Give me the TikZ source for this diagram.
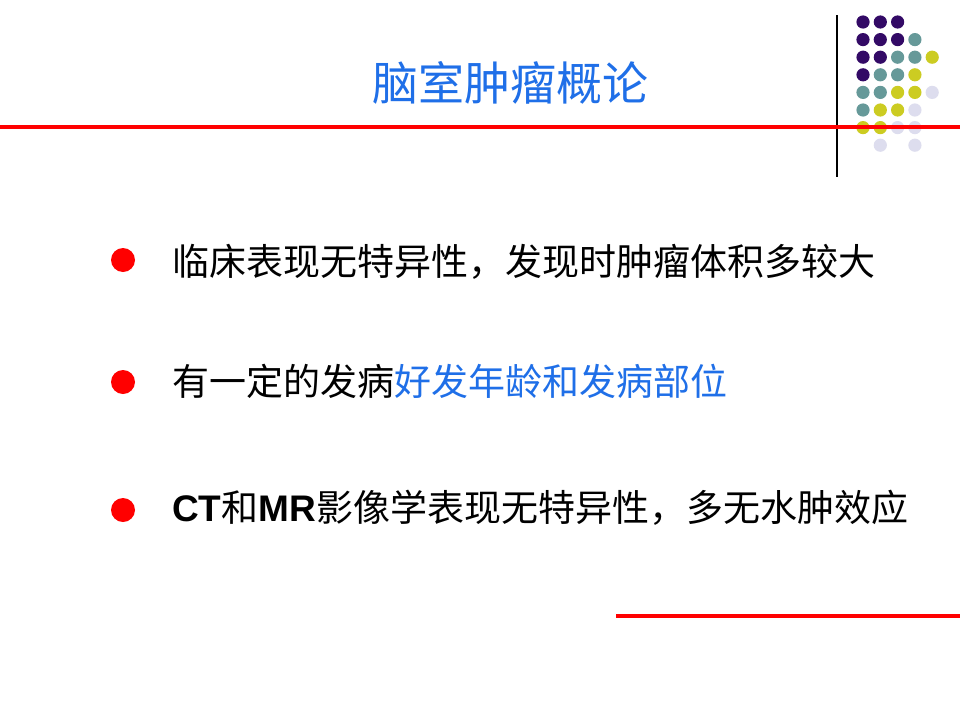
\documentclass[tikz,border=0pt]{standalone}
\usepackage{fontspec}
\newfontfamily\cjk{Noto Sans CJK SC}
\newfontfamily\arial{Liberation Sans}
\definecolor{titleblue}{HTML}{1F6FE8}
\definecolor{dotpurple}{HTML}{330A66}
\definecolor{dotteal}{HTML}{669999}
\definecolor{dotyellow}{HTML}{CCCC22}
\definecolor{dotlilac}{HTML}{DDDDEE}
\begin{document}
\begin{tikzpicture}[x=1pt,y=-1pt,
	bodytext/.style={anchor=west,inner sep=0pt,font=\cjk\fontsize{37}{40}\selectfont},
	bulletdot/.style={fill=red,draw=none}]
	\useasboundingbox[fill=white] (0,0) rectangle (960,720);
	% rules
	\draw[red,line width=4pt] (0,127) -- (960,127);
	\draw[red,line width=4pt] (616,616) -- (960,616);
	\draw[black,line width=1.2pt] (837,15) -- (837,177);
	% dot grid
	\foreach \c/\r/\col in {0/0/dotpurple,1/0/dotpurple,2/0/dotpurple,
		0/1/dotpurple,1/1/dotpurple,2/1/dotpurple,3/1/dotteal,
		0/2/dotpurple,1/2/dotpurple,2/2/dotteal,3/2/dotteal,4/2/dotyellow,
		0/3/dotpurple,1/3/dotteal,2/3/dotteal,3/3/dotyellow,
		0/4/dotteal,1/4/dotteal,2/4/dotyellow,3/4/dotyellow,4/4/dotlilac,
		0/5/dotteal,1/5/dotyellow,2/5/dotyellow,3/5/dotlilac,
		0/6/dotyellow,1/6/dotyellow,2/6/dotlilac,3/6/dotlilac,
		1/7/dotlilac,3/7/dotlilac}
		\fill[\col] (863+17.3*\c,22+17.6*\r) circle (6.6);
	\draw[red,line width=4pt] (820,127) -- (960,127);
	% title
	\node[inner sep=0pt,text=titleblue,font=\cjk\fontsize{46}{50}\selectfont] (title) at (510,83) {脑室肿瘤概论};
	% bullets
	\fill[bulletdot] (123,260) circle (12);
	\fill[bulletdot] (123,382) circle (12);
	\fill[bulletdot] (123,510) circle (12);
	\node[bodytext] (lineA) at (172,262) {临床表现无特异性，发现时肿瘤体积多较大};
	\node[bodytext] (lineB) at (172,381) {有一定的发病\textcolor{titleblue}{好发年龄和发病部位}};
	\node[bodytext] (lineC) at (172,508) {{\arial\bfseries CT}和{\arial\bfseries MR}影像学表现无特异性，多无水肿效应};
\end{tikzpicture}
\end{document}
